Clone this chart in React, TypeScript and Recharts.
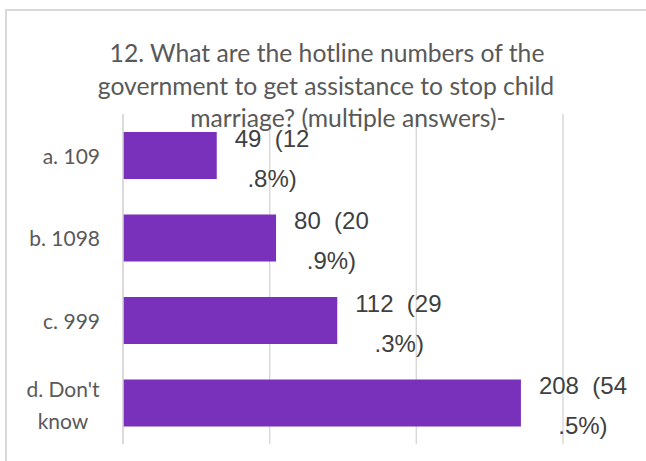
import { BarChart, Bar, XAxis, YAxis, CartesianGrid, LabelList } from "recharts";

const categories = ["a. 109", "b. 1098", "c. 999", "d. Don't know"];
const counts = [49, 80, 112, 208];
const percents = ["12.8%", "20.9%", "29.3%", "54.5%"];
const axisMax = 230;
const gridTicks = [0, axisMax / 3, (axisMax * 2) / 3, axisMax];

const titleLines = [
  "12. What are the hotline numbers of the",
  "government to get assistance to stop child",
  "marriage? (multiple answers)-",
];

const data = categories.map((name, i) => ({
  name,
  count: counts[i],
  label: `${counts[i]}  (${percents[i]})`,
}));

// rough Arial widths (em) for the label characters
const arialWidth = (s: string, size: number) =>
  s.split("").reduce((w, ch) => {
    if (/[0-9]/.test(ch)) return w + 0.556;
    if (ch === "%") return w + 0.889;
    if (ch === "(" || ch === ")") return w + 0.333;
    return w + 0.278;
  }, 0) * size;

const BarLabel = (props: any) => {
  const { x, y, width, height, value } = props;
  const text = String(value);
  const cut = text.indexOf(".");
  const first = text.slice(0, cut);
  const second = text.slice(cut);
  const left = x + width + 18;
  const mid = left + arialWidth(first, 24) / 2;
  const cy = y + height / 2;
  return (
    <g fontFamily="'Liberation Sans', Arial, sans-serif" fontSize={24} fill="#404040">
      <text x={left} y={cy - 17} dy="0.35em" textAnchor="start" style={{ whiteSpace: "pre" }}>
        {first}
      </text>
      <text x={mid} y={cy + 23} dy="0.35em" textAnchor="middle">
        {second}
      </text>
    </g>
  );
};

const CategoryTick = (props: any) => {
  const { x, y, payload } = props;
  const words = String(payload.value);
  if (words === "d. Don't know") {
    return (
      <g fontFamily="Lato, 'Open Sans', sans-serif" fontSize={21} fill="#595959">
        <text x={x - 37} y={y - 13} dy="0.35em" textAnchor="middle">
          d. Don't
        </text>
        <text x={x - 37} y={y + 19} dy="0.35em" textAnchor="middle">
          know
        </text>
      </g>
    );
  }
  return (
    <text
      x={x}
      y={y + 1}
      dy="0.35em"
      textAnchor="end"
      fontFamily="Lato, 'Open Sans', sans-serif"
      fontSize={21}
      fill="#595959"
    >
      {words}
    </text>
  );
};

export default function App() {
  return (
    <div
      style={{
        position: "absolute",
        left: 0,
        top: 0,
        width: 646,
        height: 461,
        overflow: "hidden",
        background: "#fff",
      }}
    >
      <div
        style={{
          position: "absolute",
          left: 5,
          top: 9,
          width: 700,
          height: 500,
          border: "2px solid #d9d9d9",
        }}
      />
      <div style={{ position: "absolute", left: 0, top: 0 }}>
        <BarChart
          width={646}
          height={461}
          data={data}
          layout="vertical"
          margin={{ top: 114, right: 83, bottom: 17, left: 0 }}
        >
          <CartesianGrid horizontal={false} vertical stroke="#d9d9d9" strokeWidth={1.5} />
          <XAxis type="number" domain={[0, axisMax]} ticks={gridTicks} hide />
          <YAxis
            type="category"
            dataKey="name"
            width={123}
            axisLine={{ stroke: "#d9d9d9", strokeWidth: 1.5 }}
            tickLine={false}
            tickSize={0}
            tickMargin={23}
            tick={<CategoryTick />}
            interval={0}
          />
          <Bar dataKey="count" fill="#7930ba" barSize={47} isAnimationActive={false}>
            <LabelList dataKey="label" content={<BarLabel />} />
          </Bar>
        </BarChart>
      </div>
      <svg
        width={646}
        height={461}
        style={{ position: "absolute", left: 0, top: 0, pointerEvents: "none" }}
      >
        <g fontFamily="Lato, 'Open Sans', sans-serif" fontSize={24.7} fill="#595959" textAnchor="middle">
          <text x={327} y={53} dy="0.35em">{titleLines[0]}</text>
          <text x={326} y={86} dy="0.35em">{titleLines[1]}</text>
          <text x={348} y={118} dy="0.35em">{titleLines[2]}</text>
        </g>
      </svg>
    </div>
  );
}
